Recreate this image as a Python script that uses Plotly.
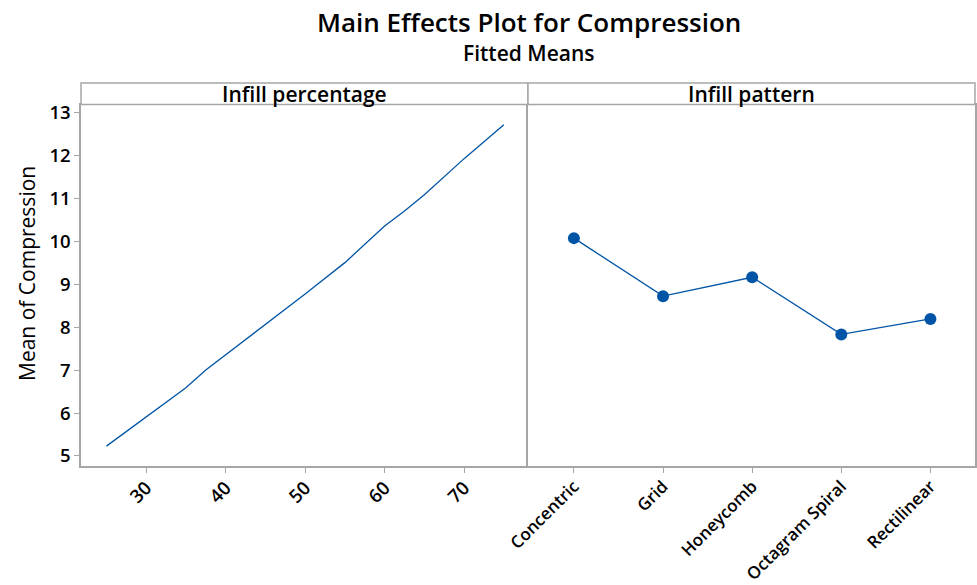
import plotly.graph_objects as go

# Fitted means for the continuous factor (Infill percentage)
infill_pct = [25, 30, 35, 37.5, 40, 45, 50, 55, 60, 62.5, 65, 70, 75]
infill_pct_mean = [5.23, 5.92, 6.59, 7.00, 7.35, 8.05, 8.77, 9.50, 10.35, 10.70, 11.08, 11.92, 12.71]

# Fitted means for the categorical factor (Infill pattern)
patterns = ["Concentric", "Grid", "Honeycomb", "Octagram Spiral", "Rectilinear"]
pattern_mean = [10.07, 8.72, 9.16, 7.83, 8.19]

y_ticks = [5, 6, 7, 8, 9, 10, 11, 12, 13]
pct_ticks = [30, 40, 50, 60, 70]

W, H = 977, 585
FONT = "Open Sans"
BLUE = "#0054a6"
GRID = "#a6a6a6"


def px_x(p):
    return p / W


def px_y(p):
    return 1 - p / H


left_dom = [px_x(81), px_x(528)]
right_dom = [px_x(528), px_x(975)]
plot_dom = [px_y(466), px_y(104.5)]
strip_top = px_y(83)

fig = go.Figure()

fig.add_trace(go.Scatter(
    x=infill_pct, y=infill_pct_mean, mode="lines",
    line=dict(color=BLUE, width=1.3),
    xaxis="x", yaxis="y", showlegend=False,
))

fig.add_trace(go.Scatter(
    x=list(range(len(patterns))), y=pattern_mean, mode="lines+markers",
    line=dict(color=BLUE, width=1.3),
    marker=dict(color=BLUE, size=12),
    xaxis="x2", yaxis="y2", showlegend=False,
))

tick_font = dict(family=FONT, size=18.5, color="black", weight=600)
cat_font = dict(family=FONT, size=17, color="black", weight=600)
common_axis = dict(
    showgrid=False, zeroline=False, showline=True, linecolor=GRID, linewidth=1.5,
    ticklen=5, tickcolor=GRID, tickwidth=1.3, automargin=False,
)

fig.update_layout(
    width=W, height=H,
    margin=dict(l=0, r=0, t=0, b=0),
    paper_bgcolor="white", plot_bgcolor="white",
    xaxis=dict(domain=left_dom, range=[21.8, 78.04], tickvals=pct_ticks,
               tickangle=-45, anchor="y", ticks="outside", mirror=True,
               ticklabelstandoff=-3, tickfont=tick_font, **common_axis),
    yaxis=dict(domain=plot_dom, range=[4.767, 13.18], tickvals=y_ticks,
               anchor="x", ticks="outside", mirror=False, tickfont=tick_font,
               **common_axis),
    xaxis2=dict(domain=right_dom, range=[-0.515, 4.5],
                tickvals=list(range(len(patterns))), ticktext=patterns,
                tickangle=-45, anchor="y2", ticks="outside", mirror=True,
                ticklabelstandoff=-3, tickfont=cat_font, **common_axis),
    yaxis2=dict(domain=plot_dom, range=[4.767, 13.18], matches="y",
                showticklabels=False, anchor="x2", ticks="", mirror=True,
                **common_axis),
)

# Panel header strips
for dom, label in [(left_dom, "Infill percentage"), (right_dom, "Infill pattern")]:
    fig.add_shape(type="rect", xref="paper", yref="paper",
                  x0=dom[0], x1=dom[1], y0=plot_dom[1], y1=strip_top,
                  line=dict(color=GRID, width=1.5), fillcolor="white")
    fig.add_annotation(text=label, xref="paper", yref="paper",
                       x=(dom[0] + dom[1]) / 2, y=(plot_dom[1] + strip_top) / 2,
                       showarrow=False, xanchor="center", yanchor="middle",
                       font=dict(family=FONT, size=21, color="black", weight=600))

# Titles
fig.add_annotation(text="Main Effects Plot for Compression", xref="paper", yref="paper",
                   x=px_x(529), y=px_y(22), showarrow=False,
                   xanchor="center", yanchor="middle",
                   font=dict(family=FONT, size=26, color="black", weight=600))
fig.add_annotation(text="Fitted Means", xref="paper", yref="paper",
                   x=px_x(528), y=px_y(53), showarrow=False,
                   xanchor="center", yanchor="middle",
                   font=dict(family=FONT, size=21, color="black", weight=600))

# Y axis title
fig.add_annotation(text="Mean of Compression", xref="paper", yref="paper",
                   x=px_x(27), y=px_y(274), showarrow=False, textangle=-90,
                   xanchor="center", yanchor="middle",
                   font=dict(family=FONT, size=21, color="black"))

fig.write_html("out.html")
